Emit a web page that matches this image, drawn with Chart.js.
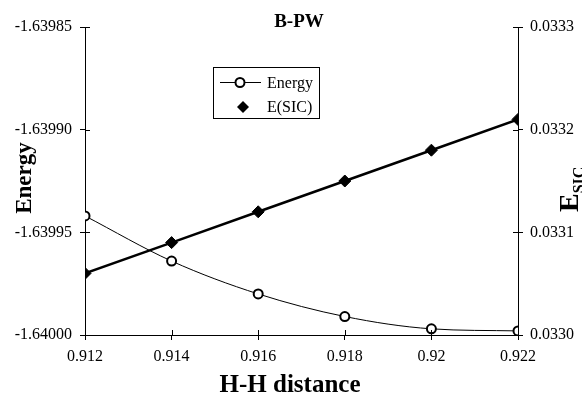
<!DOCTYPE html>
<html>
<head>
<meta charset="utf-8">
<script src="https://cdn.jsdelivr.net/npm/chart.js@4"></script>
<style>
    body { margin: 0; background: #fff; }
    #wrap { width: 582px; height: 399px; }
</style>
</head>
<body>
<div id="wrap"><canvas id="bpwChart" width="582" height="399"></canvas></div>
<script>
// Valeurs
const distances = [0.912, 0.914, 0.916, 0.918, 0.92, 0.922];
const energy = [-1.639942, -1.639964, -1.639980, -1.639991, -1.639997, -1.639998];
const eSic = [0.03306, 0.03309, 0.03312, 0.03315, 0.03318, 0.03321];

const xTickValues = [0.912, 0.914, 0.916, 0.918, 0.92, 0.922];
const xTickLabels = ['0.912', '0.914', '0.916', '0.918', '0.92', '0.922'];
const energyTickValues = [-1.64, -1.63995, -1.6399, -1.63985];
const energyTickLabels = ['-1.64000', '-1.63995', '-1.63990', '-1.63985'];
const sicTickValues = [0.033, 0.0331, 0.0332, 0.0333];
const sicTickLabels = ['0.0330', '0.0331', '0.0332', '0.0333'];

const serif = '"Liberation Serif", "Times New Roman", serif';
Chart.defaults.font.family = serif;
Chart.defaults.color = '#000';

// --------------------------------------------------------------------------

const setTicks = values => scale => {
    scale.ticks = values.map(v => ({ value: v }));
};

// petits traits vers l'intérieur (les ticks traversent l'axe)
const innerTicks = {
    id: 'innerTicks',
    afterDraw(chart) {
        const { ctx, chartArea, scales } = chart;
        ctx.save();
        ctx.strokeStyle = '#000';
        ctx.lineWidth = 1;
        ctx.beginPath();
        scales.x.ticks.forEach(t => {
            const px = Math.round(scales.x.getPixelForValue(t.value)) + 0.5;
            ctx.moveTo(px, chartArea.bottom);
            ctx.lineTo(px, chartArea.bottom - 5);
        });
        scales.y.ticks.forEach(t => {
            const py = Math.round(scales.y.getPixelForValue(t.value)) + 0.5;
            ctx.moveTo(chartArea.left, py);
            ctx.lineTo(chartArea.left + 5, py);
        });
        scales.y2.ticks.forEach(t => {
            const py = Math.round(scales.y2.getPixelForValue(t.value)) + 0.5;
            ctx.moveTo(chartArea.right, py);
            ctx.lineTo(chartArea.right - 5, py);
        });
        ctx.stroke();
        ctx.restore();
    }
};

// titres, E_SIC avec indice, légende encadrée
const labels = {
    id: 'labels',
    afterDraw(chart) {
        const { ctx, chartArea } = chart;
        const ds = chart.data.datasets;
        ctx.save();
        ctx.fillStyle = '#000';
        ctx.textBaseline = 'alphabetic';

        ctx.font = `bold 19px ${serif}`;
        ctx.textAlign = 'center';
        ctx.fillText('B-PW', 299, 27);

        ctx.font = `bold 25px ${serif}`;
        ctx.fillText('H-H distance', 290, 392);

        // Energy (gauche)
        ctx.save();
        ctx.translate(31, 178);
        ctx.rotate(-Math.PI / 2);
        ctx.font = `bold 23px ${serif}`;
        ctx.textAlign = 'center';
        ctx.fillText('Energy', 0, 0);
        ctx.restore();

        // E_SIC (droite)
        ctx.save();
        ctx.translate(578, 212);
        ctx.rotate(-Math.PI / 2);
        ctx.textAlign = 'left';
        ctx.font = `bold 28px ${serif}`;
        ctx.fillText('E', 0, 0);
        const w = ctx.measureText('E').width;
        ctx.font = `bold 16px ${serif}`;
        ctx.fillText('SIC', w, 6);
        ctx.restore();

        // légende
        const bx = chartArea.left + 128, by = chartArea.top + 40;
        ctx.strokeStyle = '#000';
        ctx.lineWidth = 1;
        ctx.strokeRect(bx + 0.5, by + 0.5, 106, 51);

        ctx.beginPath();
        ctx.moveTo(bx + 7, by + 15.5);
        ctx.lineTo(bx + 48, by + 15.5);
        ctx.stroke();
        ctx.beginPath();
        ctx.arc(bx + 27, by + 15.5, 4.5, 0, Math.PI * 2);
        ctx.fillStyle = '#fff';
        ctx.fill();
        ctx.lineWidth = 2;
        ctx.stroke();

        ctx.fillStyle = '#000';
        ctx.beginPath();
        ctx.moveTo(bx + 30, by + 34);
        ctx.lineTo(bx + 36, by + 40);
        ctx.lineTo(bx + 30, by + 46);
        ctx.lineTo(bx + 24, by + 40);
        ctx.closePath();
        ctx.fill();

        ctx.font = `16px ${serif}`;
        ctx.textAlign = 'left';
        ctx.fillText(ds[0].label, bx + 54, by + 21);
        ctx.fillText(ds[1].label, bx + 54, by + 45);
        ctx.restore();
    }
};

// --------------------------------------------------------------------------

new Chart(document.getElementById('bpwChart').getContext('2d'), {
    type: 'line',
    data: {
        datasets: [
            {
                label: 'Energy',
                data: distances.map((x, i) => ({ x, y: energy[i] })),
                yAxisID: 'y',
                borderColor: '#000',
                borderWidth: 1,
                cubicInterpolationMode: 'monotone',
                pointStyle: 'circle',
                pointRadius: 4.5,
                pointBorderWidth: 2,
                pointBackgroundColor: '#fff',
                pointBorderColor: '#000'
            },
            {
                label: 'E(SIC)',
                data: distances.map((x, i) => ({ x, y: eSic[i] })),
                yAxisID: 'y2',
                borderColor: '#000',
                borderWidth: 2.5,
                tension: 0,
                pointStyle: 'rectRot',
                pointRadius: 6,
                pointBorderWidth: 1,
                pointBackgroundColor: '#000',
                pointBorderColor: '#000'
            }
        ]
    },
    options: {
        responsive: false,
        animation: false,
        layout: { padding: { top: 27, left: 0, right: 0, bottom: 0 } },
        plugins: {
            legend: { display: false },
            title: { display: false },
            tooltip: { enabled: false }
        },
        scales: {
            x: {
                type: 'linear',
                min: 0.912,
                max: 0.922,
                afterBuildTicks: setTicks(xTickValues),
                afterFit: s => { s.height = 64; },
                grid: { drawOnChartArea: false, tickLength: 5, color: '#000' },
                border: { color: '#000', width: 1 },
                ticks: {
                    font: { size: 16 },
                    padding: 7,
                    maxRotation: 0,
                    callback: (v, i) => xTickLabels[i]
                }
            },
            y: {
                position: 'left',
                min: -1.64,
                max: -1.63985,
                afterBuildTicks: setTicks(energyTickValues),
                afterFit: s => { s.width = 85; },
                grid: { drawOnChartArea: false, tickLength: 5, color: '#000' },
                border: { color: '#000', width: 1 },
                ticks: {
                    font: { size: 16 },
                    padding: 8,
                    callback: (v, i) => energyTickLabels[i]
                }
            },
            y2: {
                position: 'right',
                min: 0.033,
                max: 0.0333,
                afterBuildTicks: setTicks(sicTickValues),
                afterFit: s => { s.width = 64; },
                grid: { drawOnChartArea: false, tickLength: 5, color: '#000' },
                border: { color: '#000', width: 1 },
                ticks: {
                    font: { size: 16 },
                    padding: 7,
                    callback: (v, i) => sicTickLabels[i]
                }
            }
        }
    },
    plugins: [innerTicks, labels]
});
</script>
</body>
</html>
